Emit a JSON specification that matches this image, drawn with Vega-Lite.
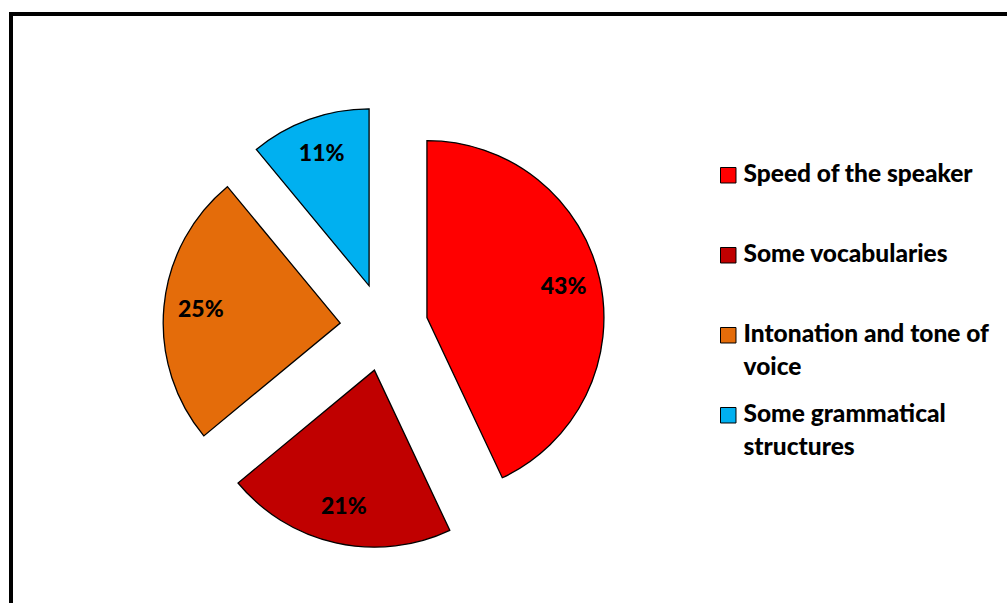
{
  "$schema": "https://vega.github.io/schema/vega-lite/v6.json",
  "width": 1000,
  "height": 600,
  "autosize": "none",
  "padding": {"left": 11, "top": 14, "right": 0, "bottom": 0},
  "background": "white",
  "config": {"view": {"stroke": null}, "font": "Lato"},
  "data": {"values": [
    {"category": "Speed of the speaker", "value": 43, "order": 1, "pct": "43%"},
    {"category": "Some vocabularies", "value": 21, "order": 2, "pct": "21%"},
    {"category": "Intonation and tone of voice", "value": 25, "order": 3, "pct": "25%"},
    {"category": "Some grammatical structures", "value": 11, "order": 4, "pct": "11%"}
  ]},
  "layer": [
    {
      "data": {"values": [{"frame": 1}]},
      "mark": {"type": "rect", "fill": null, "stroke": "black", "strokeWidth": 4},
      "encoding": {}
    },
    {
      "mark": {
        "type": "arc",
        "outerRadius": 177,
        "stroke": "black",
        "strokeWidth": 1.3,
        "x": {"expr": "width*0.373"},
        "y": {"expr": "height*0.522"},
        "xOffset": {"expr": "44*sin(PI*(datum.value_start+datum.value_end)/100)"},
        "yOffset": {"expr": "-44*cos(PI*(datum.value_start+datum.value_end)/100)"}
      },
      "encoding": {
        "theta": {"field": "value", "type": "quantitative", "stack": true},
        "order": {"field": "order", "type": "quantitative"},
        "color": {
          "field": "category",
          "type": "nominal",
          "scale": {
            "domain": ["Speed of the speaker", "Some vocabularies", "Intonation and tone of voice", "Some grammatical structures"],
            "range": ["#FF0000", "#C00000", "#E46C0A", "#00B0F0"]
          },
          "legend": {
            "orient": "none",
            "legendX": 705,
            "legendY": 149,
            "title": null,
            "padding": 0,
            "symbolType": "square",
            "symbolSize": 240,
            "symbolStrokeColor": "black",
            "symbolStrokeWidth": 1,
            "symbolOpacity": 1,
            "labelFont": "Lato",
            "labelFontSize": 24.5,
            "labelFontWeight": 900,
            "labelColor": "black",
            "labelLimit": 400,
            "labelOffset": 3,
            "labelBaseline": "top",
            "gridAlign": "all",
            "rowPadding": 22,
            "labelExpr": "datum.label == 'Intonation and tone of voice' ? ['Intonation and tone of', 'voice'] : datum.label == 'Some grammatical structures' ? ['Some grammatical', 'structures'] : datum.label",
            "encode": {"labels": {"update": {"dy": {"value": -12}, "lineHeight": {"value": 33}}}}
          }
        }
      }
    },
    {
      "mark": {
        "type": "text",
        "radius": 140,
        "font": "Lato",
        "fontSize": 23,
        "fontWeight": 900,
        "color": "black",
        "align": "center",
        "baseline": "middle",
        "x": {"expr": "width*0.373"},
        "y": {"expr": "height*0.522"},
        "xOffset": {"expr": "44*sin(PI*(datum.value_start+datum.value_end)/100)"},
        "yOffset": {"expr": "-44*cos(PI*(datum.value_start+datum.value_end)/100)"}
      },
      "encoding": {
        "theta": {"field": "value", "type": "quantitative", "stack": true},
        "order": {"field": "order", "type": "quantitative"},
        "text": {"field": "pct", "type": "nominal"}
      }
    }
  ]
}
